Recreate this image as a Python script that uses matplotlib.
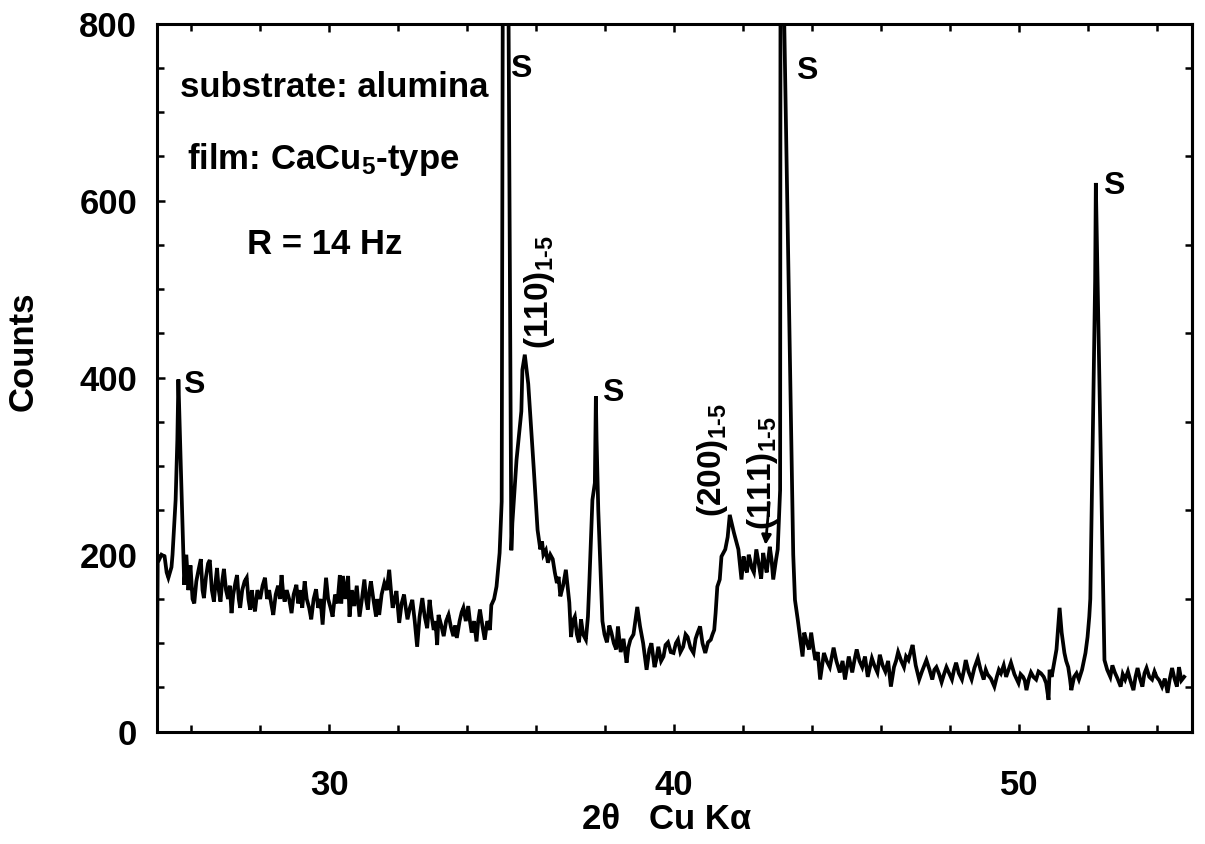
import matplotlib
matplotlib.use("Agg")
import matplotlib.pyplot as plt
from matplotlib.ticker import MultipleLocator, FixedLocator

plt.rcParams['font.family'] = ['Liberation Sans', 'DejaVu Sans']
plt.rcParams['font.weight'] = 'bold'
plt.rcParams['mathtext.fontset'] = 'custom'
plt.rcParams['mathtext.rm'] = 'Liberation Sans:bold'
plt.rcParams['mathtext.it'] = 'Liberation Sans:bold'
plt.rcParams['mathtext.bf'] = 'Liberation Sans:bold'

# 2theta (deg) and counts
two_theta = [
    25.00, 25.03, 25.14, 25.23, 25.29, 25.34, 25.43, 25.46, 25.55, 25.60, 25.63, 25.70,
    25.80, 25.86, 25.92, 25.98, 26.04, 26.09, 26.15, 26.21, 26.28, 26.33, 26.37, 26.43,
    26.49, 26.54, 26.60, 26.66, 26.71, 26.75, 26.80, 26.85, 26.90, 26.95, 27.01, 27.07,
    27.12, 27.17, 27.22, 27.28, 27.33, 27.38, 27.42, 27.48, 27.55, 27.61, 27.66, 27.71,
    27.76, 27.80, 27.85, 27.92, 28.00, 28.07, 28.14, 28.20, 28.26, 28.32, 28.38, 28.45,
    28.52, 28.57, 28.62, 28.67, 28.71, 28.77, 28.84, 28.91, 28.97, 29.05, 29.10, 29.16,
    29.22, 29.29, 29.35, 29.42, 29.48, 29.55, 29.62, 29.68, 29.75, 29.81, 29.86, 29.91,
    29.97, 30.04, 30.10, 30.17, 30.24, 30.31, 30.35, 30.40, 30.47, 30.55, 30.59, 30.66,
    30.73, 30.80, 30.88, 30.95, 31.02, 31.07, 31.12, 31.17, 31.21, 31.28, 31.36, 31.40,
    31.45, 31.52, 31.60, 31.67, 31.74, 31.79, 31.84, 31.90, 31.95, 32.03, 32.10, 32.17,
    32.22, 32.27, 32.34, 32.41, 32.48, 32.55, 32.62, 32.70, 32.77, 32.84, 32.91, 32.97,
    33.03, 33.08, 33.13, 33.17, 33.25, 33.32, 33.39, 33.46, 33.53, 33.60, 33.65, 33.70,
    33.78, 33.84, 33.89, 33.96, 34.03, 34.08, 34.13, 34.20, 34.27, 34.32, 34.37, 34.44,
    34.51, 34.58, 34.66, 34.70, 34.78, 34.85, 34.94, 35.00, 35.03, 35.10, 35.20, 35.28,
    35.31, 35.43, 35.57, 35.60, 35.67, 35.77, 35.93, 36.04, 36.12, 36.17, 36.21, 36.28,
    36.34, 36.41, 36.48, 36.54, 36.60, 36.65, 36.70, 36.78, 36.86, 36.96, 37.01, 37.06,
    37.12, 37.18, 37.24, 37.30, 37.36, 37.44, 37.50, 37.54, 37.63, 37.70, 37.73, 37.75,
    37.80, 37.92, 37.98, 38.05, 38.12, 38.18, 38.25, 38.32, 38.37, 38.45, 38.53, 38.62,
    38.67, 38.73, 38.82, 38.93, 39.01, 39.10, 39.20, 39.28, 39.34, 39.43, 39.48, 39.54,
    39.62, 39.69, 39.75, 39.82, 39.90, 39.98, 40.05, 40.11, 40.18, 40.26, 40.33, 40.39,
    40.47, 40.56, 40.62, 40.68, 40.75, 40.82, 40.90, 40.98, 41.06, 41.11, 41.16, 41.20,
    41.25, 41.32, 41.37, 41.48, 41.55, 41.61, 41.67, 41.73, 41.80, 41.86, 41.95, 42.01,
    42.06, 42.11, 42.16, 42.20, 42.25, 42.31, 42.38, 42.45, 42.52, 42.58, 42.63, 42.68,
    42.77, 42.82, 42.87, 42.95, 43.00, 43.03, 43.07, 43.08, 43.14, 43.19, 43.45, 43.50,
    43.58, 43.63, 43.72, 43.77, 43.85, 43.91, 43.97, 44.03, 44.09, 44.16, 44.23, 44.34,
    44.42, 44.51, 44.62, 44.70, 44.80, 44.88, 44.95, 45.06, 45.16, 45.22, 45.29, 45.37,
    45.45, 45.53, 45.61, 45.73, 45.80, 45.89, 45.96, 46.04, 46.12, 46.20, 46.28, 46.37,
    46.43, 46.49, 46.58, 46.66, 46.72, 46.79, 46.85, 46.91, 47.00, 47.10, 47.18, 47.25,
    47.31, 47.40, 47.48, 47.54, 47.60, 47.68, 47.75, 47.82, 47.89, 47.97, 48.05, 48.11,
    48.17, 48.25, 48.34, 48.40, 48.45, 48.53, 48.62, 48.70, 48.80, 48.88, 48.97, 49.03,
    49.08, 49.18, 49.28, 49.35, 49.41, 49.47, 49.55, 49.62, 49.69, 49.76, 49.86, 49.98,
    50.04, 50.11, 50.16, 50.21, 50.28, 50.34, 50.41, 50.49, 50.56, 50.63, 50.71, 50.78,
    50.85, 50.88, 50.94, 50.99, 51.08, 51.13, 51.17, 51.23, 51.31, 51.36, 51.42, 51.47,
    51.51, 51.59, 51.66, 51.73, 51.82, 51.92, 51.98, 52.03, 52.06, 52.10, 52.15, 52.20,
    52.22, 52.47, 52.55, 52.64, 52.70, 52.77, 52.85, 52.94, 53.00, 53.07, 53.15, 53.22,
    53.31, 53.37, 53.43, 53.50, 53.57, 53.63, 53.69, 53.77, 53.85, 53.92, 53.98, 54.06,
    54.14, 54.22, 54.30, 54.36, 54.43, 54.50, 54.57, 54.63, 54.70, 54.78,
]
counts = [
    0, 191, 200, 198, 180, 174, 186, 200, 262, 330, 398, 300,
    166, 200, 160, 188, 150, 145, 170, 182, 195, 160, 151, 175,
    190, 194, 160, 147, 170, 185, 160, 147, 170, 184, 160, 150,
    165, 134, 155, 168, 177, 150, 140, 160, 170, 174, 150, 138,
    160, 145, 136, 160, 150, 165, 174, 150, 160, 145, 132, 155,
    165, 150, 177, 155, 147, 160, 150, 134, 155, 166, 145, 160,
    140, 170, 150, 140, 127, 150, 161, 140, 150, 121, 150, 174,
    150, 140, 130, 155, 145, 177, 145, 176, 150, 176, 130, 160,
    142, 165, 130, 150, 172, 150, 138, 160, 170, 150, 130, 150,
    132, 155, 168, 160, 183, 160, 140, 150, 159, 123, 145, 155,
    140, 127, 140, 149, 125, 96, 130, 151, 130, 117, 149, 130,
    115, 125, 98, 132, 120, 108, 125, 132, 118, 108, 120, 106,
    125, 135, 140, 125, 142, 125, 112, 125, 102, 125, 138, 120,
    104, 125, 115, 143, 150, 164, 202, 260, 800, 1000, 800, 205,
    236, 307, 362, 409, 426, 393, 297, 228, 206, 215, 200, 205,
    191, 200, 195, 180, 168, 175, 153, 165, 183, 146, 107, 125,
    130, 110, 101, 127, 110, 104, 130, 168, 262, 281, 379, 330,
    250, 125, 110, 101, 120, 112, 100, 93, 119, 90, 105, 78,
    95, 104, 110, 141, 119, 100, 70, 93, 100, 73, 81, 96,
    80, 85, 98, 101, 90, 89, 100, 104, 90, 96, 110, 107,
    95, 89, 105, 112, 119, 100, 89, 101, 104, 110, 115, 134,
    164, 172, 198, 206, 220, 245, 235, 225, 215, 206, 172, 198,
    185, 180, 200, 194, 185, 180, 206, 190, 173, 202, 190, 180,
    209, 195, 172, 194, 206, 236, 273, 800, 1000, 800, 200, 149,
    127, 112, 85, 112, 100, 93, 112, 95, 81, 90, 59, 89,
    80, 73, 95, 80, 67, 80, 59, 85, 67, 80, 93, 80,
    73, 85, 62, 83, 75, 67, 87, 75, 68, 80, 51, 73,
    80, 90, 80, 73, 85, 81, 90, 98, 75, 59, 68, 75,
    81, 70, 59, 70, 73, 65, 56, 65, 73, 66, 59, 70,
    78, 66, 59, 70, 81, 68, 59, 72, 83, 70, 59, 70,
    65, 60, 51, 62, 70, 66, 75, 62, 70, 78, 65, 55,
    65, 62, 58, 47, 60, 67, 62, 59, 68, 66, 62, 55,
    36, 70, 62, 73, 93, 119, 140, 112, 89, 80, 73, 60,
    47, 62, 66, 59, 70, 89, 107, 130, 150, 250, 380, 510,
    620, 81, 70, 62, 75, 67, 60, 51, 65, 59, 68, 58,
    47, 62, 72, 60, 51, 66, 72, 62, 59, 68, 62, 58,
    51, 60, 44, 59, 72, 60, 51, 73, 58, 62,
]

# peak labels: (text, x, y)
s_labels = [("S", 26.06, 392), ("S", 35.55, 749), ("S", 38.21, 383),
            ("S", 43.85, 746), ("S", 52.75, 616)]
hkl_labels = [(r"(110)$_{1\text{-}5}$", 36.1, 432),
              (r"(200)$_{1\text{-}5}$", 41.1, 243),
              (r"(111)$_{1\text{-}5}$", 42.55, 228)]

fig = plt.figure(figsize=(12.05, 8.44), dpi=100)
ax = fig.add_axes([0.130, 0.133, 0.859, 0.839])

ax.plot(two_theta, counts, color='black', lw=2.7, solid_joinstyle='miter')

ax.set_xlim(25, 55)
ax.set_ylim(0, 800)

ax.xaxis.set_major_locator(FixedLocator([30, 40, 50]))
ax.xaxis.set_minor_locator(MultipleLocator(2))
ax.yaxis.set_major_locator(MultipleLocator(200))
ax.yaxis.set_minor_locator(MultipleLocator(50))
ax.tick_params(axis='both', which='both', direction='in', top=True, right=False,
               width=1.8, labelsize=25)
ax.tick_params(axis='both', which='major', length=6)
ax.tick_params(axis='both', which='minor', length=5)
ax.tick_params(axis='x', pad=27)
ax.tick_params(axis='y', pad=14)
for lab in ax.get_xticklabels() + ax.get_yticklabels():
    lab.set_fontweight('bold')

# right side ticks sit at the odd hundreds in the original
sec = ax.secondary_yaxis('right')
sec.set_yticks([50, 150, 250, 350, 450, 550, 650, 750])
sec.tick_params(direction='in', length=5, width=1.8, labelright=False)

for sp in ax.spines.values():
    sp.set_linewidth(2.2)
sec.spines['right'].set_linewidth(2.2)

ax.set_ylabel("Counts", fontsize=25, fontweight='bold')
ax.yaxis.set_label_coords(-0.113, 0.537)
ax.set_xlabel("2\u03b8   Cu K\u03b1", fontsize=25, fontweight='bold')
ax.xaxis.set_label_coords(0.493, -0.100)

ax.text(25.67, 728, "substrate: alumina", fontsize=25, fontweight='bold',
        ha='left', va='center')
ax.text(25.87, 646, r"film: CaCu$_5$-type", fontsize=25, fontweight='bold',
        ha='left', va='center')
ax.text(27.61, 550, "R = 14 Hz", fontsize=25, fontweight='bold',
        ha='left', va='center')

for txt, x, y in s_labels:
    ax.text(x, y, txt, fontsize=23, fontweight='bold', ha='center', va='center')
for txt, x, y in hkl_labels:
    ax.text(x, y, txt, fontsize=24, fontweight='bold', rotation=90,
            ha='center', va='bottom')

ax.annotate("", xy=(42.64, 208), xytext=(42.76, 262),
            arrowprops=dict(arrowstyle='-|>', lw=2, color='black',
                            mutation_scale=14))

fig.savefig("out.png", dpi=100)
